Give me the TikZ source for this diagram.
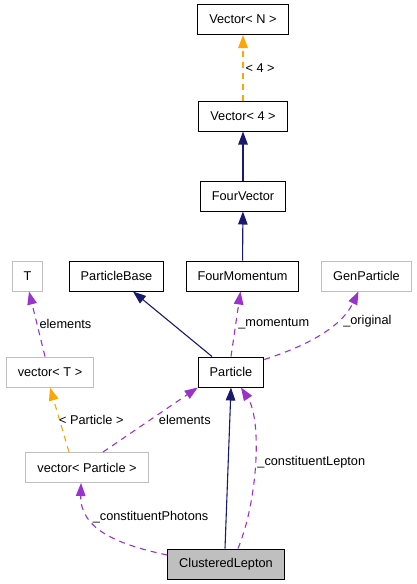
\documentclass[tikz,border=0pt]{standalone}
\usepackage{fontspec}
\setmainfont{Liberation Sans}
\usetikzlibrary{arrows.meta}
\definecolor{inhcol}{HTML}{191970}
\definecolor{usecol}{HTML}{9A32CD}
\definecolor{tplcol}{HTML}{FFA500}
\definecolor{boxgray}{HTML}{BFBFBF}
\tikzset{
  cls/.style={draw=black, line width=1pt, minimum height=30pt, inner xsep=11.5pt, font=\fontsize{12.75}{15}\selectfont},
  ext/.style={cls, draw=boxgray},
  inh/.style={->, draw=inhcol, line width=1.1pt, >={Triangle[length=13pt,width=9.5pt]}},
  usage/.style={->, draw=usecol, line width=1.1pt, dash pattern=on 6pt off 5pt, >={Triangle[length=13pt,width=9.5pt,fill=usecol]}},
  tpl/.style={->, draw=tplcol, line width=1.1pt, dash pattern=on 6pt off 5pt, >={Triangle[length=13pt,width=9.5pt,fill=tplcol]}},
  lbl/.style={inner sep=2pt, font=\fontsize{12.75}{15}\selectfont}
}
\begin{document}
\begin{tikzpicture}[x=1pt, y=-1pt]
            \useasboundingbox (0,0) rectangle (416,584);
            \node[cls] (vecN) at (243,19.5) {Vector< N >};
            \node[cls] (vecF) at (243,116) {Vector< 4 >};
            \node[cls] (fourvec) at (243,196) {FourVector};
            \node[cls] (fourmom) at (242.5,276) {FourMomentum};
            \node[cls] (pbase) at (116.5,276) {ParticleBase};
            \node[ext] (T) at (27.5,276) {T};
            \node[ext] (genp) at (366.5,276) {GenParticle};
            \node[cls] (particle) at (231,372) {Particle};
            \node[ext] (vecT) at (50,372) {vector< T >};
            \node[ext] (vecP) at (87,467.5) {vector< Particle >};
            \node[cls, fill=boxgray] (clep) at (226,564) {ClusteredLepton};
            \draw[tpl] (vecF) --node[lbl, midway, right]{< 4 >} (vecN);
            \draw[inh] (fourvec) -- (vecF);
            \draw[inh] (fourmom) -- (fourvec);
            \draw[inh] ([xshift=-19pt]particle.north) -- ([xshift=16.5pt]pbase.south);
            \draw[usage] (particle.north) --node[lbl, midway, right]{\_momentum} ([xshift=-2pt]fourmom.south);
            \draw[usage] ([yshift=-3pt]particle.north east) .. controls (300,348) and (340,330) .. node[lbl, pos=0.7, anchor=west, xshift=4pt]{\_original} ([xshift=-8pt]genp.south);
            \draw[usage] ([xshift=-5pt]vecT.north) --node[lbl, midway, right]{elements} ([xshift=1.5pt]T.south);
            \draw[tpl] ([xshift=-18pt]vecP.north) --node[lbl, midway, right, xshift=-3pt]{< Particle >} (vecT.south);
            \draw[usage] ([xshift=16pt]vecP.north) --node[lbl, midway, right, xshift=6pt]{elements} (particle.south west);
            \draw[inh] ([xshift=-1pt]clep.north) -- (particle.south);
            \draw[usage] ([xshift=12pt]clep.north) .. controls (258,500) and (262,420) .. node[lbl, pos=0.5, anchor=west]{\_constituentLepton} ([xshift=10pt]particle.south);
            \draw[usage] ([yshift=9pt]clep.west) .. controls (120,545) and (80,530) .. node[lbl, pos=0.7, anchor=west]{\_constituentPhotons} ([xshift=-6pt]vecP.south);
\end{tikzpicture}
\end{document}
